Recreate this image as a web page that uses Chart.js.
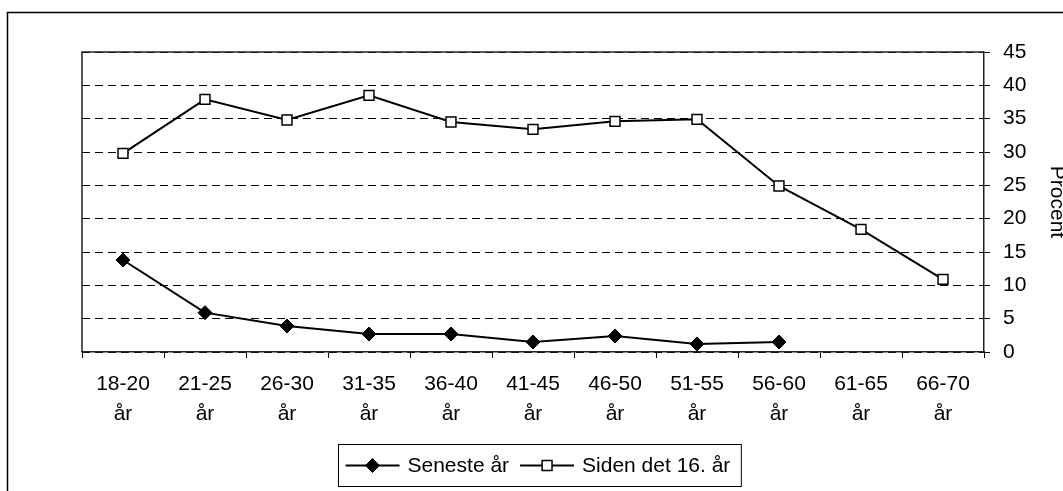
<!DOCTYPE html>
<html><head><meta charset="utf-8">
<script src="https://cdn.jsdelivr.net/npm/chart.js@4/dist/chart.umd.min.js"></script>
<style>html,body{margin:0;padding:0;background:#fff}canvas{display:block}</style>
</head><body>
<canvas id="c" width="1063" height="491"></canvas>
<script>
const categories = [['18-20','år'],['21-25','år'],['26-30','år'],['31-35','år'],['36-40','år'],['41-45','år'],['46-50','år'],['51-55','år'],['56-60','år'],['61-65','år'],['66-70','år']];
const senesteAar = [13.8, 5.9, 3.9, 2.7, 2.7, 1.5, 2.4, 1.2, 1.5, null, null];
const sidenDet16 = [29.8, 37.9, 34.8, 38.5, 34.5, 33.4, 34.6, 34.9, 24.9, 18.4, 10.9];
const seriesNames = ['Seneste år', 'Siden det 16. år'];
const yMin = 0, yMax = 45, yStep = 5;
const yTitle = 'Procent';

const FONT = 'Liberation Sans, Arial, sans-serif';

const framePlugin = {
  id: 'frame',
  beforeDatasetsDraw(chart) {
    const {ctx, chartArea: a} = chart;
    ctx.save();
    ctx.strokeStyle = '#222';
    ctx.lineWidth = 1.5;
    ctx.beginPath();
    ctx.moveTo(a.left, a.bottom);
    ctx.lineTo(a.left, a.top);
    ctx.lineTo(a.right, a.top);
    ctx.stroke();
    ctx.restore();
  },
  afterDraw(chart) {
    const ctx = chart.ctx;
    ctx.save();
    // outer frame
    ctx.strokeStyle = '#000';
    ctx.lineWidth = 1.5;
    ctx.beginPath();
    ctx.moveTo(7.5, 491);
    ctx.lineTo(7.5, 12.5);
    ctx.lineTo(1063, 12.5);
    ctx.stroke();
    // legend
    const ds = chart.data.datasets;
    ctx.font = '21px ' + FONT;
    const padL = 7, lineLen = 54, gap = 8, itemGap = 11, padR = 11;
    const widths = ds.map(d => ctx.measureText(d.label).width);
    let total = padL + padR;
    widths.forEach((w, i) => { total += lineLen + gap + w + (i < ds.length - 1 ? itemGap : 0); });
    const cx = 539.5, top = 444.5, h = 42;
    const left = Math.round(cx - total / 2) + 0.5;
    ctx.strokeStyle = '#000';
    ctx.lineWidth = 1;
    ctx.strokeRect(left, top, total, h);
    const my = top + h / 2;
    let x = left + padL;
    ds.forEach((d, i) => {
      ctx.strokeStyle = '#000';
      ctx.lineWidth = 2;
      ctx.beginPath();
      ctx.moveTo(x, my);
      ctx.lineTo(x + lineLen, my);
      ctx.stroke();
      ctx.fillStyle = d.pointBackgroundColor;
      ctx.strokeStyle = '#000';
      ctx.lineWidth = d.pointBorderWidth;
      ctx.beginPath();
      const r = d.pointRadius;
      const px = x + lineLen / 2;
      if (d.pointStyle === 'rectRot') {
        ctx.moveTo(px - r, my); ctx.lineTo(px, my - r); ctx.lineTo(px + r, my); ctx.lineTo(px, my + r); ctx.closePath();
      } else {
        const s = Math.SQRT1_2 * r;
        ctx.rect(px - s, my - s, 2 * s, 2 * s);
      }
      ctx.fill(); ctx.stroke();
      x += lineLen + gap;
      ctx.fillStyle = '#000';
      ctx.textBaseline = 'middle';
      ctx.textAlign = 'left';
      ctx.fillText(d.label, x, my + 1);
      x += widths[i] + itemGap;
    });
    ctx.restore();
  }
};

new Chart(document.getElementById('c'), {
  type: 'line',
  data: {
    labels: categories,
    datasets: [
      {
        label: seriesNames[0],
        data: senesteAar,
        borderColor: '#000',
        borderWidth: 2,
        pointStyle: 'rectRot',
        pointRadius: 7,
        pointBackgroundColor: '#000',
        pointBorderColor: '#000',
        pointBorderWidth: 1,
        tension: 0,
        spanGaps: false
      },
      {
        label: seriesNames[1],
        data: sidenDet16,
        borderColor: '#000',
        borderWidth: 2,
        pointStyle: 'rect',
        pointRadius: 7,
        pointBackgroundColor: '#fff',
        pointBorderColor: '#000',
        pointBorderWidth: 1.5,
        tension: 0
      }
    ]
  },
  options: {
    responsive: false,
    animation: false,
    events: [],
    layout: {padding: {left: 82, top: 52, right: 0, bottom: 60}},
    plugins: {legend: {display: false}, tooltip: {enabled: false}},
    scales: {
      x: {
        type: 'category',
        offset: true,
        grid: {display: true, drawOnChartArea: false, drawTicks: true, tickLength: 6, offset: true, color: '#000', lineWidth: 1},
        border: {display: true, color: '#222', width: 1.5},
        ticks: {color: '#000', font: {family: FONT, size: 21, lineHeight: 1.43}, padding: 11, maxRotation: 0, autoSkip: false},
        afterFit(s) { s.height = 79; }
      },
      y: {
        position: 'right',
        min: yMin, max: yMax,
        grid: {color: '#000', lineWidth: 1, drawTicks: true, tickLength: 6},
        border: {display: true, color: '#222', width: 1.5, dash: [8, 5]},
        ticks: {stepSize: yStep, color: '#000', font: {family: FONT, size: 21}, padding: 13},
        title: {display: true, text: yTitle, color: '#000', font: {family: FONT, size: 21, lineHeight: 1.2}, padding: {top: -6, bottom: 0}},
        afterFit(s) { s.width = 79; }
      }
    }
  },
  plugins: [framePlugin]
});
</script>
</body></html>
